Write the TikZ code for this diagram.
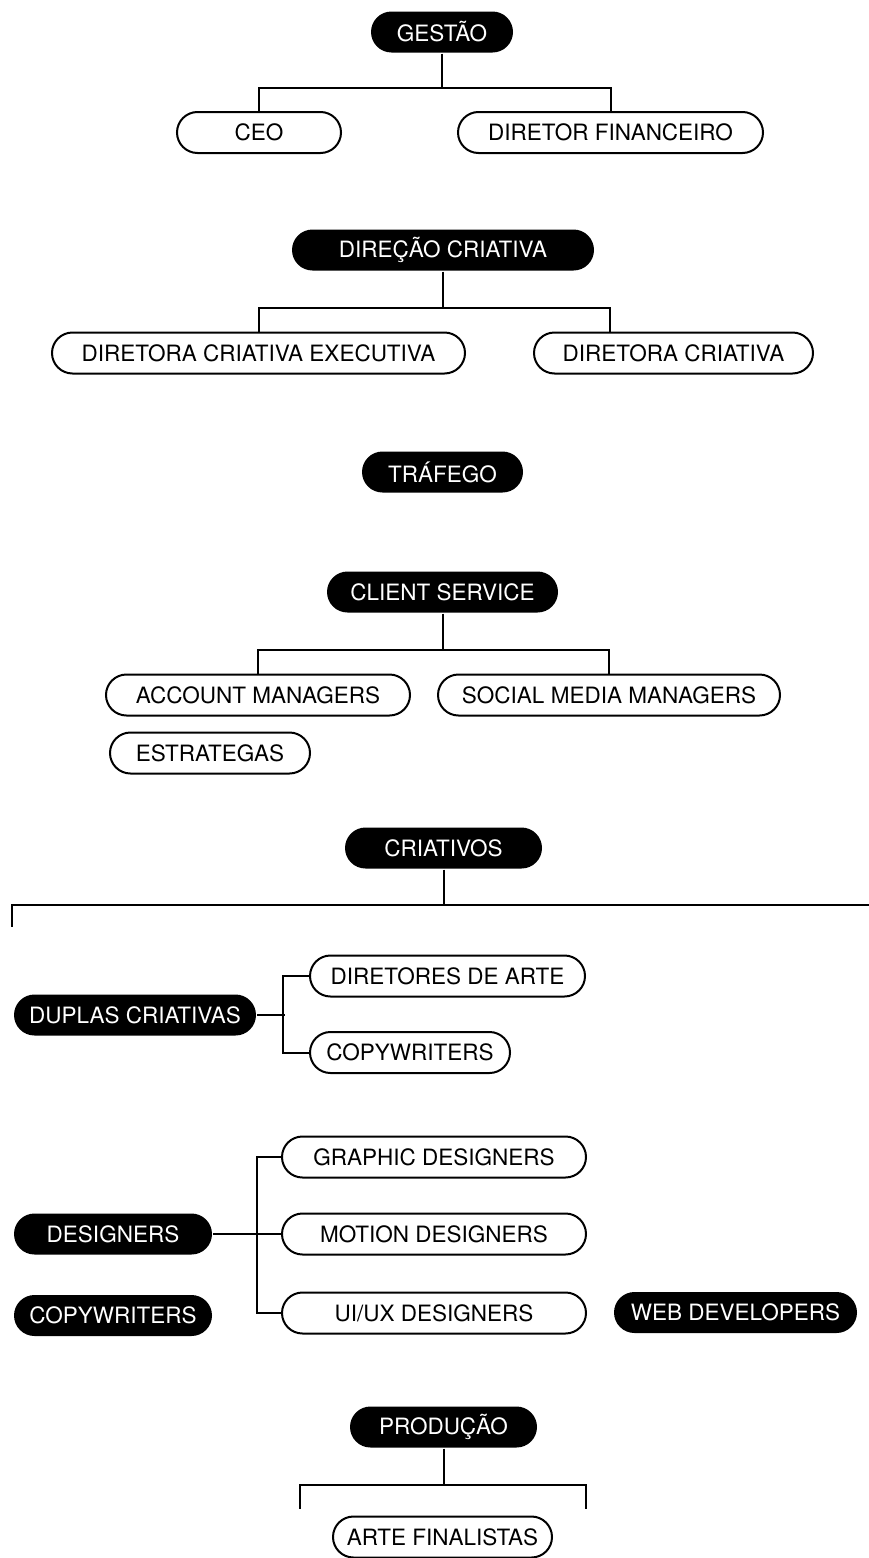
\documentclass[tikz,border=0pt]{standalone}
\usepackage{fontspec}
\setmainfont{TeX Gyre Heros}
\usetikzlibrary{calc,positioning}

\begin{document}
\begin{tikzpicture}[
                    x=1pt, y=-1pt,
                    line width=2pt,
                    pill/.style={rounded corners=20.5pt, minimum height=41pt, inner sep=0pt,
                                 font=\fontsize{22.5}{25}\selectfont},
                    head/.style={pill, fill=black, text=white},
                    role/.style={pill, draw=black, fill=white, text=black}]

                \useasboundingbox (0,0) rectangle (869,1558);

                \node[head, minimum width=142pt] (gestao) at (442,32) {GESTÃO};
                \node[role, minimum width=164pt] (ceo) at (259,132.5) {CEO};
                \node[role, minimum width=305pt] (dirfin) at (610.5,132.5) {DIRETOR FINANCEIRO};
                \draw (gestao.south) -- ++(0,34) coordinate (g1) -| (ceo.north);
                \draw (g1) -| (dirfin.north);

                \node[head, minimum width=302pt] (direcao) at (443,250) {DIREÇÃO CRIATIVA};
                \node[role, minimum width=413pt] (dircrex) at (258.5,353) {DIRETORA CRIATIVA EXECUTIVA};
                \node[role, minimum width=279pt] (dircri) at (673.5,353) {DIRETORA CRIATIVA};
                \draw (direcao.south) -- ++(0,36) coordinate (d1) -| (dircrex.north);
                \draw (d1) -| ([xshift=-63.5pt]dircri.north);

                \node[head, minimum width=161pt] (trafego) at (442.5,472) {TRÁFEGO};

                \node[head, minimum width=231pt] (client) at (442.5,592) {CLIENT SERVICE};
                \node[role, minimum width=304pt] (account) at (258,695) {ACCOUNT MANAGERS};
                \node[role, minimum width=342pt] (social) at (609,695) {SOCIAL MEDIA MANAGERS};
                \node[role, minimum width=200pt] (estrategas) at (210,753) {ESTRATEGAS};
                \draw (client.south) -- ++(0,36) coordinate (c1) -| (account.north);
                \draw (c1) -| (social.north);

                \node[head, minimum width=197pt] (criativos) at (443.5,848) {CRIATIVOS};
                \coordinate (critL) at (12,927);
                \coordinate (critR) at (875,903);
                \draw (criativos.south) -- ++(0,35) coordinate (k1) -| (critL);
                \draw (k1) -- (k1 -| critR);

                \node[head, minimum width=242pt] (duplas) at (135,1015) {DUPLAS CRIATIVAS};
                \node[role, minimum width=275pt] (dirarte) at (447.5,976) {DIRETORES DE ARTE};
                \node[role, minimum width=200pt] (copyw) at (410,1052.5) {COPYWRITERS};
                \draw (duplas.east) -- ++(28,0);
                \draw (dirarte.west) -- ++(-26,0) |- (copyw.west);

                \node[head, minimum width=198pt] (designers) at (113,1234) {DESIGNERS};
                \node[role, minimum width=304pt] (graphic) at (434,1157) {GRAPHIC DESIGNERS};
                \node[role, minimum width=304pt] (motion) at (434,1234) {MOTION DESIGNERS};
                \node[role, minimum width=304pt] (uiux) at (434,1313) {UI/UX DESIGNERS};
                \node[head, minimum width=198pt] (copyb) at (113,1315.5) {COPYWRITERS};
                \node[head, minimum width=243pt] (webdev) at (735.5,1312.5) {WEB DEVELOPERS};
                \draw (designers.east) -- (motion.west);
                \draw (graphic.west) -- ++(-24,0) |- (uiux.west);

                \node[head, minimum width=187pt] (producao) at (443.5,1427) {PRODUÇÃO};
                \node[role, minimum width=219pt] (arte) at (442.5,1537) {ARTE FINALISTAS};
                \coordinate (prodL) at (300,1509);
                \coordinate (prodR) at (586,1509);
                \draw (producao.south) -- ++(0,36) coordinate (p1) -| (prodL);
                \draw (p1) -| (prodR);

            \end{tikzpicture}
\end{document}
